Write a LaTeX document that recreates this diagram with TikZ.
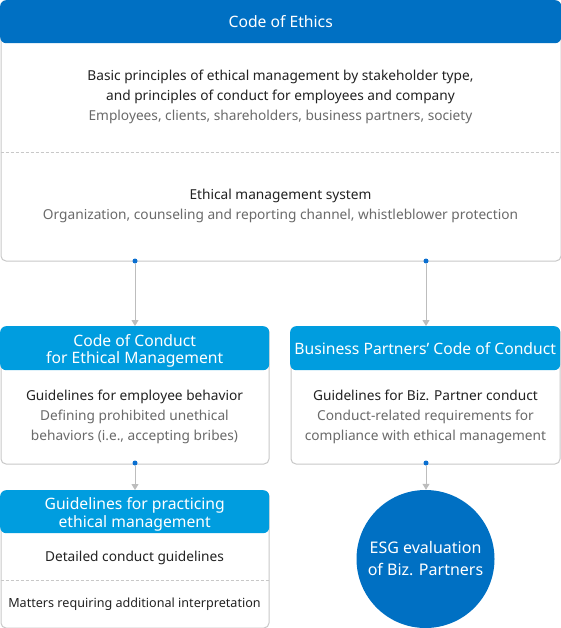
\documentclass[tikz,border=0pt]{standalone}
\usepackage{fontspec}
\setmainfont{Noto Sans}
\usetikzlibrary{arrows.meta}
\definecolor{darkblue}{HTML}{0070C3}
\definecolor{lightblue}{HTML}{009DDF}
\definecolor{bordergray}{HTML}{C8C8C8}
\definecolor{linegray}{HTML}{BDBDBD}
\definecolor{txtdark}{HTML}{222222}
\definecolor{txtgray}{HTML}{6A6A6A}
\definecolor{dotblue}{HTML}{0A6FD0}
\newcommand{\lowerline}[2]{\raisebox{-#1}[\height][\depth]{#2}}
\tikzset{
  x=1pt, y=-1pt,
  bodybox/.style={draw=bordergray, line width=1pt, rounded corners=5pt, fill=white, inner sep=0, anchor=north west},
  headbox/.style={rounded corners=6pt, text=white, font=\fontsize{15.7}{17.5}\selectfont, align=center, inner sep=0, anchor=north west},
  txt/.style={align=center, inner sep=0, font=\fontsize{13.7}{20}\selectfont, text=txtdark},
  dashline/.style={draw=bordergray, line width=0.8pt, dash pattern=on 3pt off 2pt},
  dotnode/.style={circle, fill=dotblue, inner sep=0, minimum size=5pt},
  conn/.style={draw=linegray, line width=1pt, -{Triangle[width=7pt,length=6pt]}},
}
\begin{document}
\begin{tikzpicture}
\useasboundingbox (0,0) rectangle (561,628);
% Code of Ethics
\node[bodybox, minimum width=560pt, minimum height=260pt] (ethics) at (0.5,0.5) {};
\node[headbox, fill=darkblue, minimum width=561pt, minimum height=43pt] (ethicshead) at (0,0) {Code of Ethics};
\draw[dashline] (0.5,152) -- (560.5,152);
\node[txt] (ethicsA) at (280.5,97) {Basic principles of ethical management by stakeholder type,\\ and principles of conduct for employees and company\\ \color{txtgray}Employees, clients, shareholders, business partners, society};
\node[txt] (ethicsB) at (280.5,206) {Ethical management system\\ \color{txtgray}Organization, counseling and reporting channel, whistleblower protection};
% Code of Conduct
\node[bodybox, minimum width=268pt, minimum height=137pt] (coc) at (0.5,326.5) {};
\node[headbox, fill=lightblue, minimum width=269pt, minimum height=44pt] (cochead) at (0,326) {\lowerline{2.5pt}{Code of Conduct}\\ \lowerline{2.5pt}{for Ethical Management}};
\node[txt] (cocA) at (134.5,417) {Guidelines for employee behavior\\ \color{txtgray}Defining prohibited unethical\\ \color{txtgray}behaviors (i.e., accepting bribes)};
% Business Partners
\node[bodybox, minimum width=269pt, minimum height=137pt] (bp) at (290.5,326.5) {};
\node[headbox, fill=lightblue, minimum width=270pt, minimum height=44pt] (bphead) at (290,326) {Business Partners’ Code of Conduct};
\node[txt] (bpA) at (425.5,417) {Guidelines for Biz. Partner conduct\\ \color{txtgray}Conduct-related requirements for\\ \color{txtgray}compliance with ethical management};
% Guidelines for practicing
\node[bodybox, minimum width=268pt, minimum height=137pt] (gp) at (0.5,490.5) {};
\node[headbox, fill=lightblue, minimum width=269pt, minimum height=43pt] (gphead) at (0,490) {\lowerline{2.5pt}{Guidelines for practicing}\\ \lowerline{2.5pt}{ethical management}};
\draw[dashline] (0.5,580) -- (268.5,580);
\node[txt] (gpA) at (134.5,558) {Detailed conduct guidelines};
\node[txt, font=\fontsize{12.6}{20}\selectfont] (gpB) at (134.5,604) {Matters requiring additional interpretation};
% ESG circle
\node[circle, fill=darkblue, minimum size=138pt, inner sep=0, text=white, align=center, font=\fontsize{16}{22}\selectfont] (esg) at (425.5,559) {ESG evaluation\\ of Biz. Partners};
% dots and connectors
\node[dotnode] (d1) at (135,261) {};
\node[dotnode] (d2) at (426,261) {};
\node[dotnode] (d3) at (135,463) {};
\node[dotnode] (d4) at (426,463) {};
\draw[conn] (d1) -- (d1 |- cochead.north);
\draw[conn] (d2) -- (d2 |- bphead.north);
\draw[conn] (d3) -- (d3 |- gphead.north);
\draw[conn] (d4) -- (d4 |- esg.north);
\end{tikzpicture}
\end{document}
